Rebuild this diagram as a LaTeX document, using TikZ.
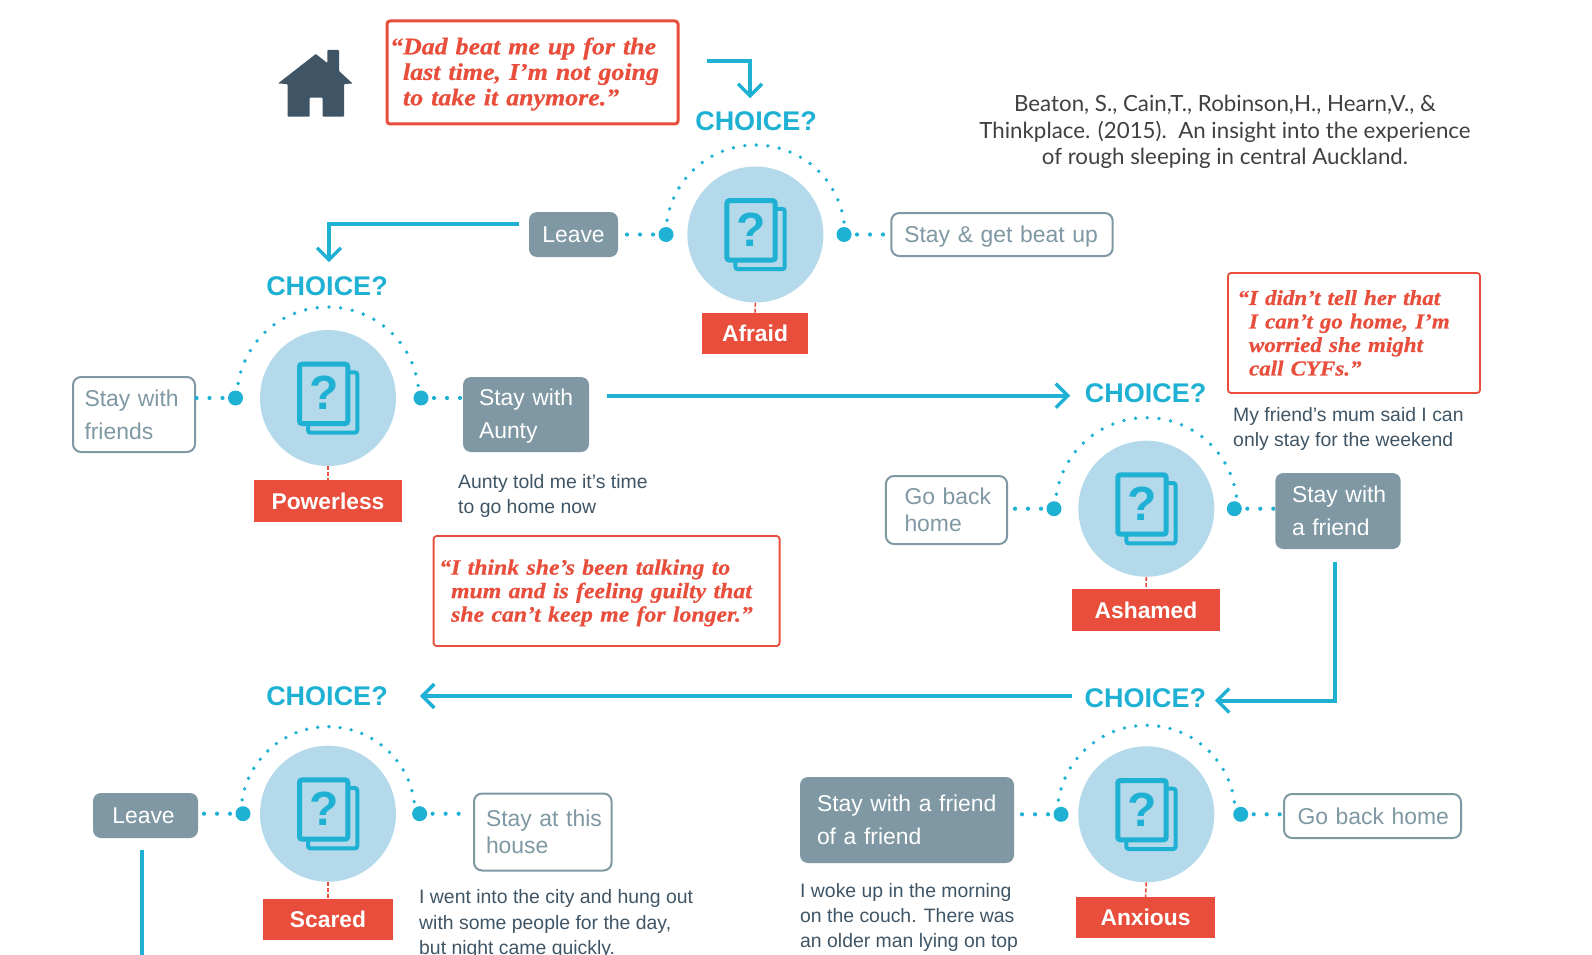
\documentclass[tikz,border=0pt]{standalone}
\usepackage{fontspec}
\setmainfont{Liberation Sans}
\newfontfamily\quotefont[BoldItalicFeatures={FakeStretch=1.08,FakeBold=0.6}]{Liberation Serif}
\newfontfamily\citefont{Lato}
\usetikzlibrary{arrows.meta}
\definecolor{cTeal}{HTML}{1FB1D3}
\definecolor{cDisc}{HTML}{B3D9EA}
\definecolor{cGrey}{HTML}{7F98A3}
\definecolor{cRed}{HTML}{E84E3B}
\definecolor{cDark}{HTML}{3F5565}
\newcommand{\optfont}{\fontsize{22.9}{33}\selectfont}
\newcommand{\optfonttight}{\fontsize{22.9}{27.5}\selectfont}
\tikzset{
  x=1pt,y=-1pt,
  sized/.style n args={3}{minimum width=#1pt,minimum height=#2pt,text width=#3pt},
  fillbox/.style={fill=cGrey,rounded corners=8pt,text=white,font=\optfont,inner ysep=0pt,align=left},
  linebox/.style={draw=cGrey,line width=2pt,fill=white,rounded corners=8pt,text=cGrey,font=\optfont,inner ysep=0pt,align=left},
  feel/.style={fill=cRed,text=white,font=\fontsize{22.8}{26}\selectfont\bfseries,inner sep=0pt},
  choicelbl/.style={text=cTeal,font=\fontsize{27}{30}\selectfont\bfseries,inner sep=0pt},
  disc/.style={circle,fill=cDisc,minimum size=136pt,inner sep=0pt},
  port/.style={circle,fill=cTeal,minimum size=15pt,inner sep=0pt},
  flow/.style={draw=cTeal,line width=4pt,-{Straight Barb[length=12pt,width=24pt,line width=3.5pt]}},
  flowend/.style={draw=cTeal,line width=4pt},
  linkdots/.style={draw=cTeal,line width=4.2pt,line cap=round,dash pattern=on 0pt off 13pt},
  reddash/.style={draw=cRed,line width=1.6pt,dash pattern=on 4pt off 2pt},
  note/.style={text=cDark,font=\fontsize{19.4}{25.3}\selectfont,anchor=north west,inner sep=0pt,align=left},
  quotebox/.style={draw=cRed,rounded corners=3pt,text=cRed,inner ysep=0pt,align=left,fill=white},
  qfont/.style={font=\quotefont\bfseries\itshape\fontsize{#1}{23.5}\selectfont},
}
\newcommand{\hub}[6]{%
  \node[disc] (#1) at (#2,#3) {};
  \foreach \a in {8,15.4,...,173}{
    \fill[cTeal] ({#2+#6*cos(\a)},{#3-#6*sin(\a)}) circle (1.9pt);
  }
  \node[port] (#1-l) at (#4,#3) {};
  \node[port] (#1-r) at (#5,#3) {};
  \begin{scope}[shift={(#2,#3)}]
    \draw[cTeal,line width=4pt,fill=cDisc,rounded corners=2.5pt] (-20,-25.7) rectangle (29.3,34.7);
    \draw[cTeal,line width=5pt,fill=cDisc,rounded corners=2.5pt] (-28.5,-33.8) rectangle (19.8,25.5);
    \node[text=cTeal,inner sep=0pt,font=\fontsize{48}{48}\selectfont\bfseries] (#1-q) at (-4,-5) {?};
  \end{scope}
}
\begin{document}
\begin{tikzpicture}
\useasboundingbox (0,0) rectangle (1592,955);

% house
\fill[cDark,rounded corners=0.8pt] (315.8,54) -- (327.3,63) -- (327.3,50) -- (339,50) -- (339,71) -- (352.6,83.5) -- (344,84) -- (344,116.7) -- (322.7,116.7) -- (322.7,97.7) -- (309.7,97.7) -- (309.7,116.7) -- (287.5,116.7) -- (287.5,84) -- (278,83.5) -- cycle;

% quotes
\node[quotebox,line width=3pt,sized={291}{103}{259},inner xsep=16pt,font=\quotefont\bfseries\itshape\fontsize{24}{25.5}\selectfont] (q1) at (532.5,72.5) {\mbox{\rule{0pt}{20pt}\llap{“}Dad beat me up for the}\\\mbox{last time, I’m not going}\\\mbox{to take it anymore.”}};
\node[quotebox,line width=1.8pt,qfont=22,sized={346}{110}{311},inner xsep=17.5pt] (q2) at (606.6,591) {\mbox{\rule{0pt}{19pt}\llap{“}I think she’s been talking to}\\\mbox{mum and is feeling guilty that}\\\mbox{she can’t keep me for longer.”}};
\node[quotebox,line width=1.8pt,qfont=21.3,sized={252}{120}{210},inner xsep=21pt] (q3) at (1354,333) {\mbox{\llap{“}I didn’t tell her that}\\\mbox{I can’t go home, I’m}\\\mbox{worried she might}\\\mbox{call CYFs.”}};

% citation
\node[inner sep=0pt,align=center,text=black!75,font=\citefont\fontsize{22.3}{26.3}\selectfont] (cite) at (1225,132) {Beaton, S., Cain,T., Robinson,H., Hearn,V., \&\\Thinkplace. (2015).\ \ An insight into the experience\\of rough sleeping in central Auckland.};

% hubs
\hub{h1}{755.4}{234.5}{666}{844}{89.5}
\hub{h2}{328}{398}{235.5}{421}{91}
\hub{h3}{1146.3}{508.7}{1054}{1234.3}{91}
\hub{h4}{1146.3}{814.3}{1061}{1240.7}{89}
\hub{h5}{328}{813.7}{243}{419.6}{87}

% choice labels
\node[choicelbl] (c1) at (756,121) {CHOICE?};
\node[choicelbl] (c2) at (327,286) {CHOICE?};
\node[choicelbl] (c3) at (1145.7,393) {CHOICE?};
\node[choicelbl] (c4) at (1145.3,698.5) {CHOICE?};
\node[choicelbl] (c5) at (327,696) {CHOICE?};

% feelings
\node[feel,minimum width=106pt,minimum height=41pt] (f1) at (755,333.5) {Afraid};
\node[feel,minimum width=148pt,minimum height=42pt] (f2) at (328,501) {Powerless};
\node[feel,minimum width=148pt,minimum height=42pt] (f3) at (1146,610) {Ashamed};
\node[feel,minimum width=139pt,minimum height=40.5pt] (f4) at (1145.5,917.7) {Anxious};
\node[feel,minimum width=130pt,minimum height=41pt] (f5) at (328,919.5) {Scared};
\foreach \i in {1,...,5}{ \draw[reddash] (h\i.south) -- (f\i.north); }

% options
\node[fillbox,minimum width=89pt,minimum height=45pt,align=center] (leave1) at (573.5,234.5) {Leave};
\node[linebox,sized={221.4}{43}{195.4},inner xsep=13pt] (stay1) at (1002,234.5) {\mbox{\rule{0pt}{20pt}Stay \& get beat up}};
\node[linebox,sized={122}{75}{99},inner xsep=11.5pt] (friends) at (134,414.5) {\mbox{Stay with}\\\mbox{friends}};
\node[fillbox,sized={126}{75}{94},inner xsep=16pt] (aunty) at (526,414.5) {\mbox{\rule{0pt}{20pt}Stay with}\\\mbox{Aunty}};
\node[linebox,sized={121}{68}{84},inner xsep=18.6pt,font=\optfonttight] (gohome1) at (946.5,510) {\mbox{Go back}\\\mbox{home}};
\node[fillbox,sized={125.4}{76}{92},inner xsep=16.7pt] (friend) at (1338,511) {\mbox{Stay with}\\\mbox{a friend}};
\node[fillbox,sized={214}{86}{180},inner xsep=17pt] (ffriend) at (907,820) {\mbox{Stay with a friend}\\\mbox{of a friend}};
\node[linebox,sized={177}{44}{150},inner xsep=13.5pt] (gohome2) at (1372.5,816) {\mbox{Go back home}};
\node[linebox,sized={137.6}{77}{113.6},inner xsep=12pt,font=\optfonttight] (house) at (542.8,832) {\mbox{Stay at this}\\\mbox{house}};
\node[fillbox,minimum width=105pt,minimum height=45pt,align=center] (leave5) at (145.5,815.5) {\kern-4pt Leave};

% dotted links
\draw[linkdots] (h1-l.center) -- (leave1.east |- h1-l.center);
\draw[linkdots] (h1-r.center) -- (stay1.west |- h1-r.center);
\draw[linkdots] (h2-l.center) -- (friends.east |- h2-l.center);
\draw[linkdots] (h2-r.center) -- (aunty.west |- h2-r.center);
\draw[linkdots] (h3-l.center) -- (gohome1.east |- h3-l.center);
\draw[linkdots] (h3-r.center) -- (friend.west |- h3-r.center);
\draw[linkdots] (h4-l.center) -- (ffriend.east |- h4-l.center);
\draw[linkdots] (h4-r.center) -- (gohome2.west |- h4-r.center);
\draw[linkdots] (h5-l.center) -- (leave5.east |- h5-l.center);
\draw[linkdots,shorten >=6pt] (h5-r.center) -- (house.west |- h5-r.center);

% notes
\node[note] (n1) at (458,474) {Aunty told me it’s time\\to go home now};
\node[note] (n2) at (1233,407.4) {My friend’s mum said I can\\only stay for the weekend};
\node[note] (n3) at (419,889.7) {I went into the city and hung out\\with some people for the day,\\but night came quickly.};
\node[note] (n4) at (800,883) {I woke up in the morning\\on the couch. There was\\an older man lying on top};

% flow connectors
\coordinate (start1) at (707,61);
\coordinate (exit1) at (142.4,955);
\coordinate (tip3) at ([shift={(-14.5pt,-2.7pt)}]c3.west);
\coordinate (tip5) at ([shift={(32pt,0pt)}]c5.east);
\draw[flow] (start1) -| ([shift={(-6pt,13pt)}]c1.north);
\draw[flow] ([shift={(-9.6pt,10.5pt)}]leave1.west) -| ([shift={(2pt,14pt)}]c2.north);
\draw[flow] ([xshift=18pt]aunty.east |- tip3) -- (tip3);
\draw[flow] ([shift={(-3pt,-13pt)}]friend.south) |- ([shift={(8.5pt,-2pt)}]c4.east);
\draw[flow] ([xshift=-12pt]c4.west |- tip5) -- (tip5);
\draw[flowend] ([yshift=-12pt,xshift=-3.1pt]leave5.south) -- (exit1);
\end{tikzpicture}
\end{document}
